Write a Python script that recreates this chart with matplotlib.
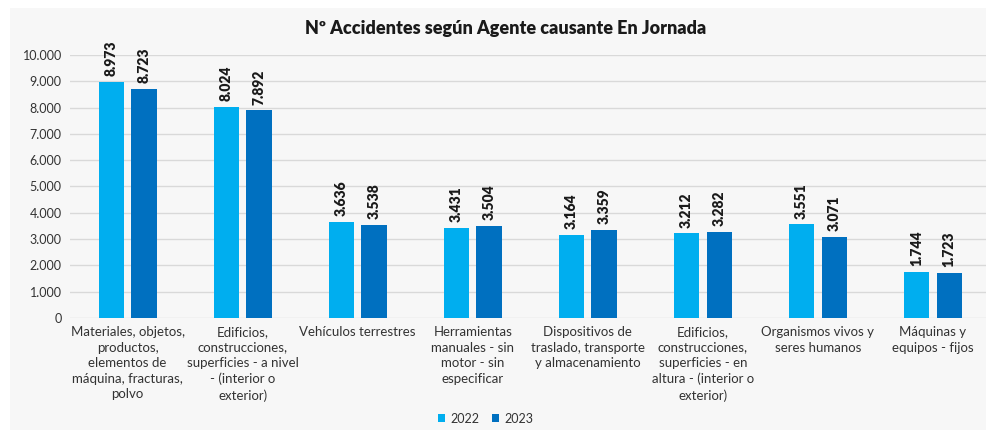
import numpy as np
import matplotlib.pyplot as plt
from matplotlib.patches import Rectangle

plt.rcParams['font.family'] = ['Lato', 'DejaVu Sans']

categorias = ['Materiales, objetos,\nproductos,\nelementos de\nmáquina, fracturas,\npolvo',
              'Edificios,\nconstrucciones,\nsuperficies - a nivel\n- (interior o\nexterior)',
              'Vehículos terrestres',
              'Herramientas\nmanuales - sin\nmotor - sin\nespecificar',
              'Dispositivos de\ntraslado, transporte\ny almacenamiento',
              'Edificios,\nconstrucciones,\nsuperficies - en\naltura - (interior o\nexterior)',
              'Organismos vivos y\nseres humanos',
              'Máquinas y\nequipos - fijos']
v2022 = [8973, 8024, 3636, 3431, 3164, 3212, 3551, 1744]
v2023 = [8723, 7892, 3538, 3504, 3359, 3282, 3071, 1723]
yticks = [0, 1000, 2000, 3000, 4000, 5000, 6000, 7000, 8000, 9000, 10000]

c22 = '#00aeef'
c23 = '#0070c0'

def fmt(v):
    return f'{v:,}'.replace(',', '.')

fig = plt.figure(figsize=(9.87, 4.33), dpi=100)
fig.patches.append(Rectangle((10/987, 3/433), 977/987, 422/433, transform=fig.transFigure,
                             facecolor='#f7f7f7', edgecolor='none', zorder=-1))
ax = fig.add_axes([0.071, 0.266, 0.929, 0.607])
ax.set_facecolor('none')

x = np.arange(len(categorias))
w = 0.22
ax.bar(x - 0.142, v2022, w, color=c22, label='2022', zorder=3)
ax.bar(x + 0.142, v2023, w, color=c23, label='2023', zorder=3)

for xi, a, b in zip(x, v2022, v2023):
    ax.text(xi - 0.142, a + 220, fmt(a), rotation=90, ha='center', va='bottom',
            fontsize=10, fontweight='heavy', color='#1a1a1a')
    ax.text(xi + 0.142, b + 220, fmt(b), rotation=90, ha='center', va='bottom',
            fontsize=10, fontweight='heavy', color='#1a1a1a')

ax.set_xlim(-0.5, 7.47)
ax.set_ylim(0, 10000)
ax.set_yticks(yticks)
ax.set_yticklabels([fmt(t) for t in yticks], fontsize=9, color='#333333')
ax.set_xticks(x)
ax.set_xticklabels(categorias, fontsize=9.5, color='#333333', linespacing=1.35)
ax.tick_params(length=0, pad=6)
ax.tick_params(axis='x', pad=6)
ax.grid(axis='y', color='#d9d9d9', linewidth=1, zorder=0)
for s in ax.spines.values():
    s.set_visible(False)

fig.text(0.512, 0.935, 'Nº Accidentes según Agente causante En Jornada', ha='center',
         va='center', fontsize=13, fontweight='heavy', color='#1a1a1a')

fig.legend(loc='center', bbox_to_anchor=(0.492, 0.033), ncol=2, frameon=False,
           fontsize=9, handlelength=0.6, handleheight=0.6, handletextpad=0.4,
           columnspacing=1.0, labelcolor='#333333')

fig.savefig('out.png', dpi=100)
